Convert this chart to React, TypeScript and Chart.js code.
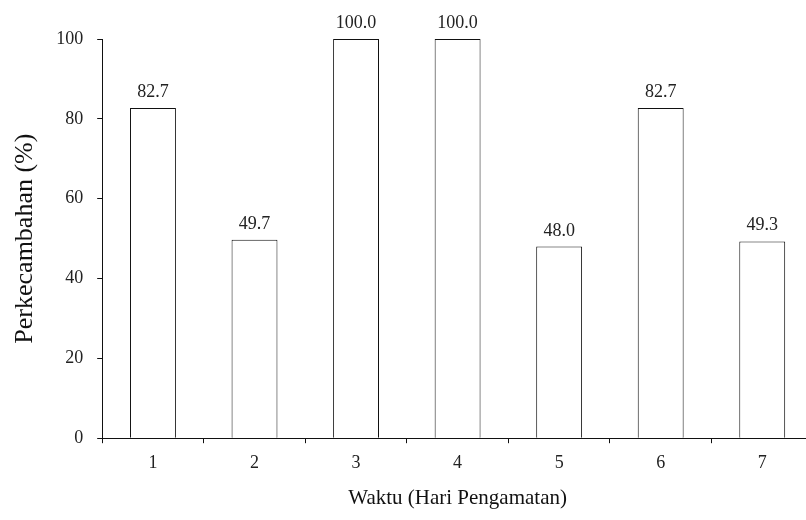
import React, { useEffect, useRef } from "react";
import { Chart, registerables } from "chart.js";

Chart.register(...registerables);

const categories = ["1", "2", "3", "4", "5", "6", "7"];
const germination = [82.7, 49.7, 100.0, 100.0, 48.0, 82.7, 49.3];
const yTicks = [0, 20, 40, 60, 80, 100];

const FONT = "'Liberation Serif', 'Times New Roman', serif";

const valueLabels = {
  id: "valueLabels",
  afterDatasetsDraw(chart: any) {
    const ctx = chart.ctx;
    const meta = chart.getDatasetMeta(0);
    ctx.save();
    ctx.font = `18px ${FONT}`;
    ctx.fillStyle = "#222";
    ctx.textAlign = "center";
    ctx.textBaseline = "alphabetic";
    meta.data.forEach((bar: any, i: number) => {
      const v = chart.data.datasets[0].data[i] as number;
      ctx.fillText(v.toFixed(1), bar.x, bar.y - 11);
    });
    ctx.restore();
  },
};

export default function App() {
  const ref = useRef<HTMLCanvasElement>(null);
  useEffect(() => {
    if (!ref.current) return;
    const chart = new Chart(ref.current, {
      type: "bar",
      data: {
        labels: categories,
        datasets: [
          {
            data: germination,
            backgroundColor: "#ffffff",
            borderColor: "#111",
            borderWidth: 1,
            categoryPercentage: 1,
            barPercentage: 0.452,
          },
        ],
      },
      options: {
        responsive: false,
        animation: false,
        plugins: { legend: { display: false }, tooltip: { enabled: false } },
        layout: { padding: { left: 0, top: 39, right: 17, bottom: 9 } },
        scales: {
          x: {
            type: "category",
            grid: {
              offset: true,
              drawOnChartArea: false,
              tickLength: 5,
              color: "#111",
            },
            border: { color: "#111", width: 1 },
            ticks: { font: { family: FONT, size: 18 }, color: "#222", padding: 9 },
            title: {
              display: true,
              text: "Waktu (Hari Pengamatan)",
              font: { family: FONT, size: 21 },
              color: "#111",
              padding: { top: 3, bottom: 0 },
            },
          },
          y: {
            min: 0,
            max: 100,
            afterBuildTicks: (axis: any) => {
              axis.ticks = yTicks.map((v) => ({ value: v }));
            },
            grid: { drawOnChartArea: false, tickLength: 5, color: "#111" },
            border: { color: "#111", width: 1 },
            ticks: { font: { family: FONT, size: 18 }, color: "#222", padding: 14 },
            title: {
              display: true,
              text: "Perkecambahan (%)",
              font: { family: FONT, size: 26 },
              color: "#111",
              padding: { top: 10, bottom: 1 },
            },
          },
        },
      },
      plugins: [valueLabels],
    });
    return () => chart.destroy();
  }, []);
  return (
    <div
      style={{
        position: "fixed",
        left: 0,
        top: 0,
        width: 806,
        height: 520,
        overflow: "hidden",
        background: "#fff",
      }}
    >
      <canvas ref={ref} width={830} height={520} style={{ display: "block" }} />
    </div>
  );
}
